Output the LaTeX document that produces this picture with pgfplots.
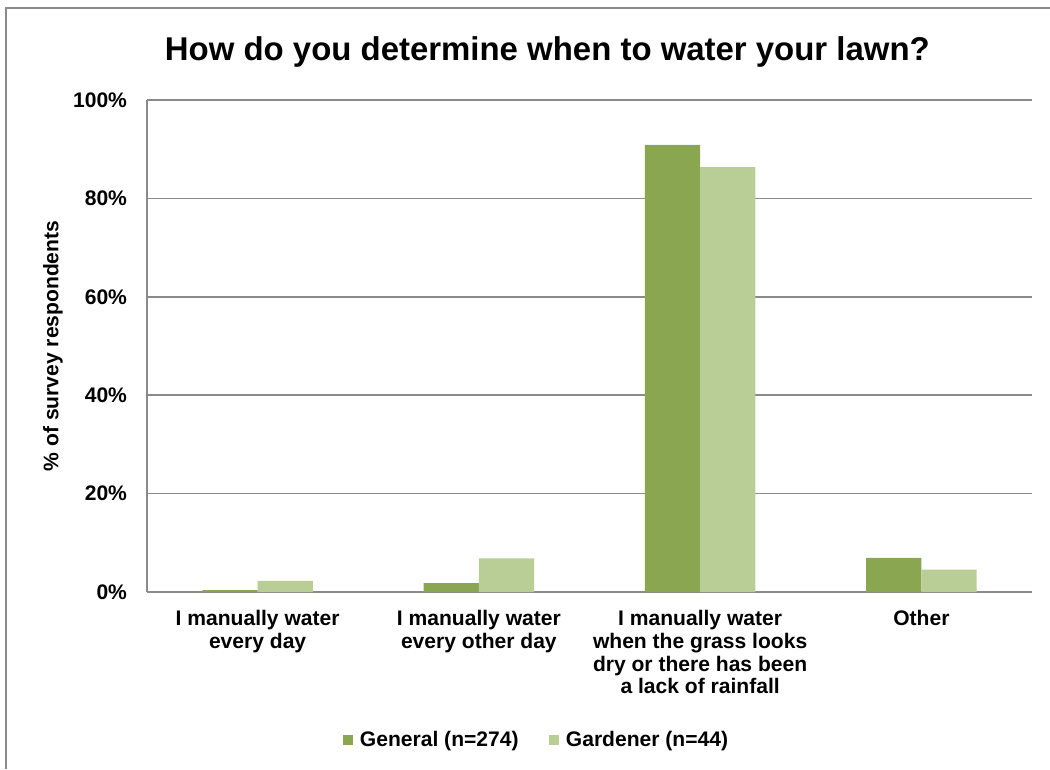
\documentclass[border=0pt]{standalone}
\usepackage{fontspec}
\setmainfont{Liberation Sans}
\usepackage{pgfplots}
\pgfplotsset{compat=1.18}

\definecolor{general}{HTML}{8BA650}
\definecolor{gardener}{HTML}{B9CE96}
\definecolor{gridgray}{HTML}{8A8A8A}

\begin{document}
\begin{tikzpicture}
  % page area and the chart frame (top and left edges)
  \useasboundingbox (0,0) rectangle (787.5pt,576.75pt);
  \draw[gridgray, line width=1.4pt] (4.3pt,0) -- (4.3pt,570.75pt) -- (787.5pt,570.75pt);

  \node[font=\fontsize{24.7}{28}\selectfont\bfseries, anchor=center] at (410.5pt,537.5pt)
    {How do you determine when to water your lawn?};

  \begin{axis}[
    at={(110.25pt,132.75pt)}, anchor=south west,
    scale only axis, width=663.75pt, height=369pt,
    ybar, bar width=0.25,
    xmin=-0.5, xmax=3.5, ymin=0, ymax=100,
    xtick={0,1,2,3},
    xticklabels={I manually water\\every day,
                 I manually water\\every other day,
                 I manually water\\when the grass looks\\dry or there has been\\a lack of rainfall,
                 Other},
    ytick={0,20,40,60,80,100},
    yticklabel={\pgfmathprintnumber{\tick}\%},
    /pgf/number format/assume math mode=true,
    major tick length=0pt,
    ymajorgrids,
    grid style={gridgray, line width=1.1pt},
    axis x line*=bottom, axis y line*=left,
    axis line style={gridgray, line width=1.1pt},
    tick label style={font=\fontsize{15.8}{16.9}\selectfont\bfseries},
    xticklabel style={align=center, anchor=north, yshift=-10.5pt},
    yticklabel style={anchor=east, xshift=-11.5pt},
    ylabel={\% of survey respondents},
    every axis y label/.style={at={(axis description cs:0,0.5)}, rotate=90, anchor=center,
      yshift=70.5pt, font=\fontsize{15.8}{18}\selectfont\bfseries},
    legend style={at={(0.4407,-0.3008)}, anchor=center, draw=none, fill=none,
      legend columns=2, font=\fontsize{15.8}{18}\selectfont\bfseries,
      /tikz/every even column/.append style={column sep=21pt},
      inner sep=0pt},
    legend image code/.code={\fill[#1] (0pt,-3.75pt) rectangle (7.5pt,3.75pt); \path (10.5pt,0pt);},
  ]
    % General respondents (n=274)
    \addplot[fill=general, draw=none, bar shift=-0.125] coordinates
      {(0,0.36) (1,1.82) (2,90.88) (3,6.93)};
    % Gardener respondents (n=44)
    \addplot[fill=gardener, draw=none, bar shift=0.125] coordinates
      {(0,2.27) (1,6.82) (2,86.36) (3,4.55)};
    \legend{General (n=274), Gardener (n=44)}
  \end{axis}
\end{tikzpicture}
\end{document}
